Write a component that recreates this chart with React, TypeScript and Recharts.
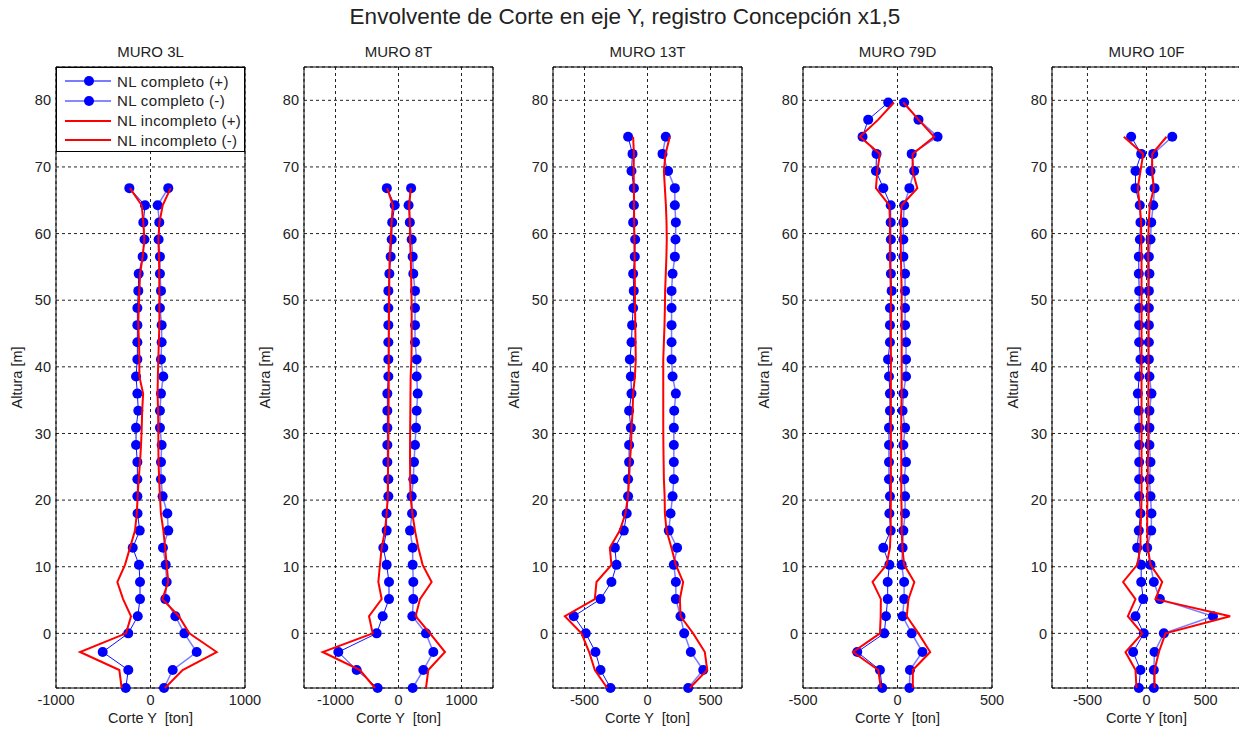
import React from 'react';
import { ScatterChart, Scatter, XAxis, YAxis, CartesianGrid, ReferenceArea } from 'recharts';

// niveles de piso [m]
const alturas = [
  -8.2, -5.5, -2.8, 0, 2.57, 5.14, 7.71, 10.28, 12.85, 15.42, 17.99, 20.56, 23.13, 25.7, 28.27,
  30.84, 33.41, 35.98, 38.55, 41.12, 43.69, 46.26, 48.83, 51.4, 53.97, 56.54, 59.11, 61.68,
  64.25, 66.82, 69.39, 71.96, 74.53, 77.1, 79.67,
];
const yTicks = [0, 10, 20, 30, 40, 50, 60, 70, 80];
const yDomain = [-8.2, 85];

// MURO 3L
const m3L_compPos = [143, 235, 489, 358, 263, 157, 171, 161, 132, 188, 178, 128, 111, 111, 118, 100, 100, 111, 135, 111, 118, 118, 100, 111, 100, 100, 86, 93, 76, 188];
const m3L_compNeg = [-262, -235, -506, -235, -135, -111, -111, -122, -188, -114, -137, -139, -139, -139, -153, -153, -129, -139, -153, -139, -139, -139, -139, -129, -125, -83, -64, -76, -58, -224];
const m3L_incPos = [153, 340, 700, 411, 300, 125, 188, 171, 155, 136, 110, 100, 92, 85, 83, 83, 80, 75, 78, 83, 88, 94, 94, 94, 92, 90, 83, 95, 129, 213];
const m3L_incNeg = [-305, -330, -746, -259, -206, -290, -351, -270, -217, -164, -145, -136, -125, -111, -100, -93, -88, -78, -118, -118, -122, -129, -125, -118, -110, -83, -65, -76, -93, -218];

// MURO 8T
const m8T_compPos = [225, 394, 553, 436, 220, 235, 235, 225, 225, 183, 215, 209, 235, 246, 262, 278, 288, 304, 288, 288, 262, 262, 262, 262, 235, 225, 209, 180, 160, 200];
const m8T_compNeg = [-331, -664, -955, -346, -251, -151, -151, -188, -241, -188, -190, -161, -161, -177, -177, -177, -177, -177, -161, -161, -161, -161, -161, -161, -145, -124, -108, -100, -60, -185];
const m8T_incPos = [436, 473, 738, 500, 272, 341, 526, 383, 315, 262, 220, 190, 185, 183, 183, 185, 188, 190, 193, 205, 209, 209, 209, 205, 200, 195, 183, 180, 170, 195];
const m8T_incNeg = [-373, -611, -1204, -410, -468, -267, -320, -294, -267, -214, -188, -170, -168, -165, -162, -160, -158, -156, -155, -155, -153, -152, -150, -148, -145, -140, -124, -110, -90, -180];

// MURO 13T
const m13T_compPos = [323, 442, 344, 291, 262, 225, 225, 209, 235, 169, 183, 199, 209, 209, 209, 209, 212, 225, 199, 191, 191, 191, 191, 191, 199, 217, 222, 225, 217, 217, 163, 119, 145];
const m13T_compNeg = [-294, -373, -413, -490, -585, -373, -286, -246, -259, -188, -165, -154, -154, -146, -146, -132, -146, -127, -132, -140, -127, -122, -114, -109, -114, -101, -98, -114, -108, -108, -127, -119, -154];
const m13T_incPos = [336, 474, 455, 362, 262, 257, 283, 225, 190, 151, 138, 136, 130, 128, 126, 125, 125, 125, 125, 125, 130, 135, 138, 140, 145, 150, 153, 151, 146, 138, 130, 143, 177];
const m13T_incNeg = [-320, -418, -463, -524, -656, -418, -405, -286, -299, -220, -175, -155, -146, -140, -130, -127, -118, -114, -100, -93, -95, -97, -99, -100, -101, -103, -104, -106, -107, -108, -110, -108, -114];

// MURO 79D
const m79D_compPos = [63, 66, 132, 75, 27, 35, 35, 22, 27, 31, 40, 40, 35, 45, 31, 40, 27, 31, 45, 45, 45, 40, 40, 40, 40, 31, 31, 31, 35, 63, 88, 75, 212, 111, 35];
const m79D_compNeg = [-81, -93, -213, -70, -61, -52, -52, -43, -75, -36, -43, -40, -45, -45, -45, -45, -40, -40, -45, -50, -40, -40, -40, -31, -35, -35, -35, -36, -36, -75, -114, -111, -185, -155, -49];
const m79D_incPos = [81, 81, 173, 111, 49, 58, 89, 35, 26, 22, 22, 20, 20, 20, 20, 20, 20, 22, 22, 22, 22, 22, 22, 22, 20, 18, 17, 17, 22, 105, 80, 80, 194, 111, 31];
const m79D_incNeg = [-88, -102, -235, -93, -89, -88, -132, -58, -40, -36, -36, -35, -35, -35, -35, -35, -35, -35, -35, -35, -35, -35, -35, -35, -38, -40, -40, -40, -43, -114, -107, -93, -199, -102, -19];

// MURO 10F
const m10F_compPos = [62, 62, 68, 147, 563, 113, 62, 34, 6, 40, 42, 34, 25, 34, 25, 25, 25, 42, 25, 20, 20, 20, 20, 20, 25, 20, 34, 40, 57, 68, 34, 57, 218];
const m10F_compNeg = [-65, -51, -113, -23, -93, -28, -45, -45, -79, -65, -51, -62, -62, -62, -62, -62, -65, -73, -62, -51, -62, -62, -62, -62, -65, -65, -56, -51, -57, -93, -93, -45, -130];
const m10F_incPos = [68, 68, 105, 161, 708, 76, 133, 34, 11, 6, 6, 8, 10, 12, 14, 15, 15, 16, 16, 16, 16, 16, 16, 16, 15, 14, 14, 20, 28, 62, 48, 48, 170];
const m10F_incNeg = [-85, -93, -178, -37, -158, -93, -198, -79, -51, -51, -45, -42, -42, -42, -42, -42, -42, -42, -42, -42, -42, -42, -42, -42, -42, -42, -45, -45, -57, -74, -51, -28, -192];

const legendItems = [
  { name: 'NL completo (+)', color: '#7b7bff', width: 2, marker: true },
  { name: 'NL completo (-)', color: '#1010ff', width: 1, marker: true },
  { name: 'NL incompleto (+)', color: '#ff0000', width: 2, marker: false },
  { name: 'NL incompleto (-)', color: '#ff0000', width: 2, marker: false },
];

const FONT = '"Liberation Sans", Arial, Helvetica, sans-serif';
const TXT = '#222';

const toPoints = (vals: number[]) => vals.map((v, i) => ({ x: v, y: alturas[i] }));

const blueDot = (p: any) => <circle cx={p.cx} cy={p.cy} r={5} fill="#0000ff" />;
const noDot = () => <g />;

function Panel({ title, domain, ticks, cPos, cNeg, iPos, iNeg, xLabel, plotLeft }: any) {
  const yLabel = (props: any) => {
    const vb = props.viewBox;
    const x = vb.x + 11;
    const y = vb.y + vb.height / 2;
    return (
      <text x={x} y={y} transform={`rotate(-90 ${x} ${y})`} textAnchor="middle" dominantBaseline="central"
        fontSize={14.5} fill={TXT} fontFamily={FONT}>Altura [m]</text>
    );
  };
  const xLab = (props: any) => {
    const vb = props.viewBox;
    return (
      <text x={vb.x + vb.width / 2} y={vb.y + 30} textAnchor="middle" dominantBaseline="central"
        fontSize={14.5} fill={TXT} fontFamily={FONT} style={{ whiteSpace: 'pre' }}>{xLabel}</text>
    );
  };
  return (
    <div style={{ position: 'absolute', left: plotLeft - 50, top: 0, width: 275, height: 729 }}>
      <div style={{ position: 'absolute', left: 50, width: 189, top: 44, lineHeight: '16px', textAlign: 'center', fontSize: 15, color: TXT }}>
        {title}
      </div>
      <ScatterChart width={275} height={729} margin={{ top: 67, right: 36, bottom: 0, left: 0 }}>
        <CartesianGrid stroke="#222" strokeDasharray="3 3" />
        <XAxis type="number" dataKey="x" domain={domain} ticks={ticks} interval={0} tickLine={false} axisLine={false}
          tickSize={0} tickMargin={7} height={41} tick={{ fill: TXT, fontSize: 14.5, fontFamily: FONT }} label={xLab} />
        <YAxis type="number" dataKey="y" domain={yDomain} ticks={yTicks} interval={0} tickLine={false} axisLine={false}
          tickSize={0} tickMargin={5} width={50} tick={{ fill: TXT, fontSize: 14.5, fontFamily: FONT }} label={yLabel} />
        <ReferenceArea x1={domain[0]} x2={domain[1]} y1={yDomain[0]} y2={yDomain[1]} fill="none" stroke="#000" strokeWidth={1} />
        <Scatter name="NL completo (+)" data={toPoints(cPos)} line={{ stroke: '#7b7bff', strokeWidth: 1.5 }} shape={blueDot} isAnimationActive={false} />
        <Scatter name="NL completo (-)" data={toPoints(cNeg)} line={{ stroke: '#1010ff', strokeWidth: 1 }} shape={blueDot} isAnimationActive={false} />
        <Scatter name="NL incompleto (+)" data={toPoints(iPos)} line={{ stroke: '#ff0000', strokeWidth: 2 }} shape={noDot} isAnimationActive={false} />
        <Scatter name="NL incompleto (-)" data={toPoints(iNeg)} line={{ stroke: '#ff0000', strokeWidth: 2 }} shape={noDot} isAnimationActive={false} />
      </ScatterChart>
    </div>
  );
}

function LegendBox({ left, top }: { left: number; top: number }) {
  return (
    <div style={{ position: 'absolute', left, top, width: 189, height: 85, boxSizing: 'border-box', background: '#fff', border: '1px solid #000', fontSize: 15, letterSpacing: '0.35px', color: TXT }}>
      {legendItems.map((it, i) => (
        <div key={it.name} style={{ position: 'absolute', left: 0, top: 3 + i * 19.8, height: 20, display: 'flex', alignItems: 'center' }}>
          <svg width={60} height={14} style={{ display: 'block' }}>
            <line x1={8} x2={54} y1={7} y2={7} stroke={it.color} strokeWidth={it.width} />
            {it.marker && <circle cx={32} cy={7} r={5} fill="#0000ff" />}
          </svg>
          <span style={{ whiteSpace: 'nowrap' }}>{it.name}</span>
        </div>
      ))}
    </div>
  );
}

export default function App() {
  return (
    <div style={{ position: 'absolute', left: 0, top: 0, width: 1239, height: 729, overflow: 'hidden', background: '#fff', fontFamily: FONT }}>
      <div style={{ position: 'absolute', left: 0, width: 1250, top: 4, lineHeight: '26px', textAlign: 'center', fontSize: 22.5, color: TXT }}>
        Envolvente de Corte en eje Y, registro Concepción x1,5
      </div>
      <Panel title="MURO 3L" domain={[-1000, 1000]} ticks={[-1000, 0, 1000]} cPos={m3L_compPos} cNeg={m3L_compNeg} iPos={m3L_incPos} iNeg={m3L_incNeg} xLabel="Corte Y  [ton]" plotLeft={56} />
      <Panel title="MURO 8T" domain={[-1500, 1500]} ticks={[-1000, 0, 1000]} cPos={m8T_compPos} cNeg={m8T_compNeg} iPos={m8T_incPos} iNeg={m8T_incNeg} xLabel="Corte Y  [ton]" plotLeft={304} />
      <Panel title="MURO 13T" domain={[-750, 750]} ticks={[-500, 0, 500]} cPos={m13T_compPos} cNeg={m13T_compNeg} iPos={m13T_incPos} iNeg={m13T_incNeg} xLabel="Corte Y  [ton]" plotLeft={553} />
      <Panel title="MURO 79D" domain={[-500, 500]} ticks={[-500, 0, 500]} cPos={m79D_compPos} cNeg={m79D_compNeg} iPos={m79D_incPos} iNeg={m79D_incNeg} xLabel="Corte Y  [ton]" plotLeft={803} />
      <Panel title="MURO 10F" domain={[-800, 800]} ticks={[-500, 0, 500]} cPos={m10F_compPos} cNeg={m10F_compNeg} iPos={m10F_incPos} iNeg={m10F_incNeg} xLabel="Corte Y [ton]" plotLeft={1052} />
      <LegendBox left={56} top={67} />
    </div>
  );
}
